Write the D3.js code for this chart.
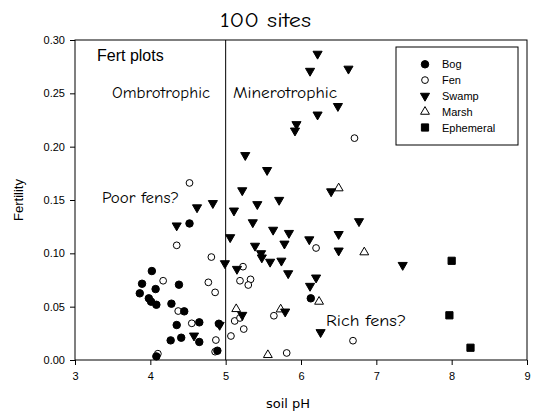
<!DOCTYPE html>
<html><head><meta charset="utf-8">
<script src="https://cdn.jsdelivr.net/npm/d3@7"></script>
<style>body{margin:0;background:#fff}svg{display:block}</style>
</head><body>
<script>
const bog = [[4.52,0.128],[4.02,0.0834],[3.89,0.0715],[4.38,0.0706],[4.07,0.0665],[3.86,0.0625],[3.98,0.0578],[4.01,0.0547],[4.08,0.0518],[4.28,0.0528],[4.45,0.0456],[4.35,0.0328],[4.65,0.0353],[4.27,0.0184],[4.41,0.0209],[4.65,0.0169],[4.89,0.0087],[4.08,0.0034],[6.13,0.0578],[4.91,0.034]];
const fen = [[4.52,0.166],[4.35,0.1075],[4.81,0.0965],[5.23,0.0875],[4.17,0.0743],[4.77,0.0728],[4.86,0.0634],[5.19,0.0743],[5.33,0.0756],[5.30,0.0703],[4.37,0.0459],[5.12,0.0366],[4.55,0.0344],[5.24,0.029],[5.07,0.0225],[4.87,0.0187],[4.86,0.0078],[4.10,0.0059],[6.20,0.105],[5.19,0.0394],[5.64,0.0415],[6.69,0.0181],[5.81,0.0066],[6.71,0.208]];
const swamp = [[6.22,0.287],[6.12,0.271],[6.63,0.273],[6.49,0.238],[6.22,0.230],[5.94,0.221],[5.92,0.215],[5.26,0.192],[5.55,0.178],[5.22,0.159],[6.40,0.158],[5.71,0.150],[5.42,0.146],[4.83,0.147],[4.62,0.143],[5.11,0.140],[6.77,0.130],[5.36,0.129],[4.35,0.126],[5.63,0.122],[5.84,0.119],[6.50,0.118],[5.06,0.115],[6.11,0.113],[5.78,0.109],[5.39,0.107],[5.47,0.100],[5.48,0.096],[6.50,0.1025],[5.59,0.092],[5.74,0.093],[4.99,0.0906],[5.15,0.0853],[7.35,0.089],[5.83,0.0812],[6.20,0.0772],[6.12,0.0694],[5.79,0.0453],[5.22,0.0422],[4.92,0.0328],[4.58,0.0228],[6.26,0.026]];
const marsh = [[6.50,0.161],[6.84,0.101],[6.24,0.0547],[5.14,0.0478],[5.73,0.0475],[5.56,0.0047]];
const ephemeral = [[8.0,0.093],[7.97,0.0419],[8.25,0.0115]];
const xTicks = [3,4,5,6,7,8,9];
const yTicks = [0,0.05,0.10,0.15,0.20,0.25,0.30];
const legendLabels = ["Bog","Fen","Swamp","Marsh","Ephemeral"];

const W=534,H=417;
const svg=d3.select("body").append("svg").attr("width",W).attr("height",H);
const x=d3.scaleLinear().domain([3,9]).range([75,527]);
const y=d3.scaleLinear().domain([0,0.30]).range([360,40]);
const comic="'Comic Sans MS','Comic Neue','Open Sans',sans-serif";
const arial="'Liberation Sans',Arial,sans-serif";

// frame
svg.append("rect").attr("x",x(3)).attr("y",y(0.30)).attr("width",x(9)-x(3)).attr("height",y(0)-y(0.30))
  .attr("fill","none").attr("stroke","#000").attr("stroke-width",1);
svg.append("line").attr("x1",x(5)).attr("x2",x(5)).attr("y1",y(0.30)).attr("y2",y(0)).attr("stroke","#000");

const gx=svg.append("g").attr("transform",`translate(0,${y(0)})`)
  .call(d3.axisBottom(x).tickValues(xTicks).tickFormat(d3.format("d")).tickSize(5).tickSizeOuter(0));
const gy=svg.append("g").attr("transform",`translate(${x(3)},0)`)
  .call(d3.axisLeft(y).tickValues(yTicks).tickFormat(d3.format(".2f")).tickSize(5).tickSizeOuter(0));
[gx,gy].forEach(g=>{g.select(".domain").remove();g.selectAll("text").attr("font-family",arial).attr("font-size",11).attr("fill","#000");});
gx.selectAll("text").attr("dy","1.05em");
gy.selectAll("text").attr("dx","-2");

const sym={
  bog:d3.symbol().type(d3.symbolCircle).size(44),
  fen:d3.symbol().type(d3.symbolCircle).size(36),
  swamp:d3.symbol().type(d3.symbolTriangle).size(36),
  marsh:d3.symbol().type(d3.symbolTriangle).size(34),
  eph:d3.symbol().type(d3.symbolSquare).size(52)
};
function draw(data,s,fill,rot){
  svg.append("g").selectAll("path").data(data).join("path")
    .attr("d",s)
    .attr("transform",d=>`translate(${x(d[0])},${y(d[1])})${rot?" rotate(180)":""}`)
    .attr("fill",fill?"#000":"#fff").attr("stroke","#000").attr("stroke-width",1);
}
draw(fen,sym.fen,false,false);
draw(bog,sym.bog,true,false);
draw(marsh,sym.marsh,false,false);
draw(swamp,sym.swamp,true,true);
draw(ephemeral,sym.eph,true,false);

// legend
svg.append("rect").attr("x",396).attr("y",47).attr("width",122).attr("height",98).attr("fill","#fff").attr("stroke","#000");
const legSyms=[[sym.bog,true,false],[sym.fen,false,false],[sym.swamp,true,true],[sym.marsh,false,false],[sym.eph,true,false]];
legendLabels.forEach((l,i)=>{
  const yy=64.3+i*15.8;
  const s=legSyms[i];
  svg.append("path").attr("d",s[0]).attr("transform",`translate(425,${yy})${s[2]?" rotate(180)":""}`)
    .attr("fill",s[1]?"#000":"#fff").attr("stroke","#000");
  svg.append("text").attr("x",442).attr("y",yy+4).text(l).attr("font-family",arial).attr("font-size",11);
});

// texts
function ctext(tx,xx,yy,fs,len,anchor){
  svg.append("text").attr("x",xx).attr("y",yy).attr("font-family",comic).attr("font-size",fs)
    .attr("text-anchor",anchor||"start").attr("textLength",len).attr("lengthAdjust","spacingAndGlyphs").text(tx);
}
ctext("100 sites",220,27,21,91);
svg.append("text").attr("x",97).attr("y",61).attr("font-family",arial).attr("font-size",16).text("Fert plots");
ctext("Ombrotrophic",112,98,16,98);
ctext("Minerotrophic",233,98,16,104);
ctext("Poor fens?",102,203,16,77);
ctext("Rich fens?",326,326,16,80);
svg.append("text").attr("x",288).attr("y",408).attr("text-anchor","middle").attr("font-family","'DejaVu Sans',sans-serif").attr("font-size",13).text("soil pH");
svg.append("text").attr("transform","translate(23,200) rotate(-90)").attr("text-anchor","middle").attr("font-family",arial).attr("font-size",13).text("Fertility");
</script>
</body></html>
